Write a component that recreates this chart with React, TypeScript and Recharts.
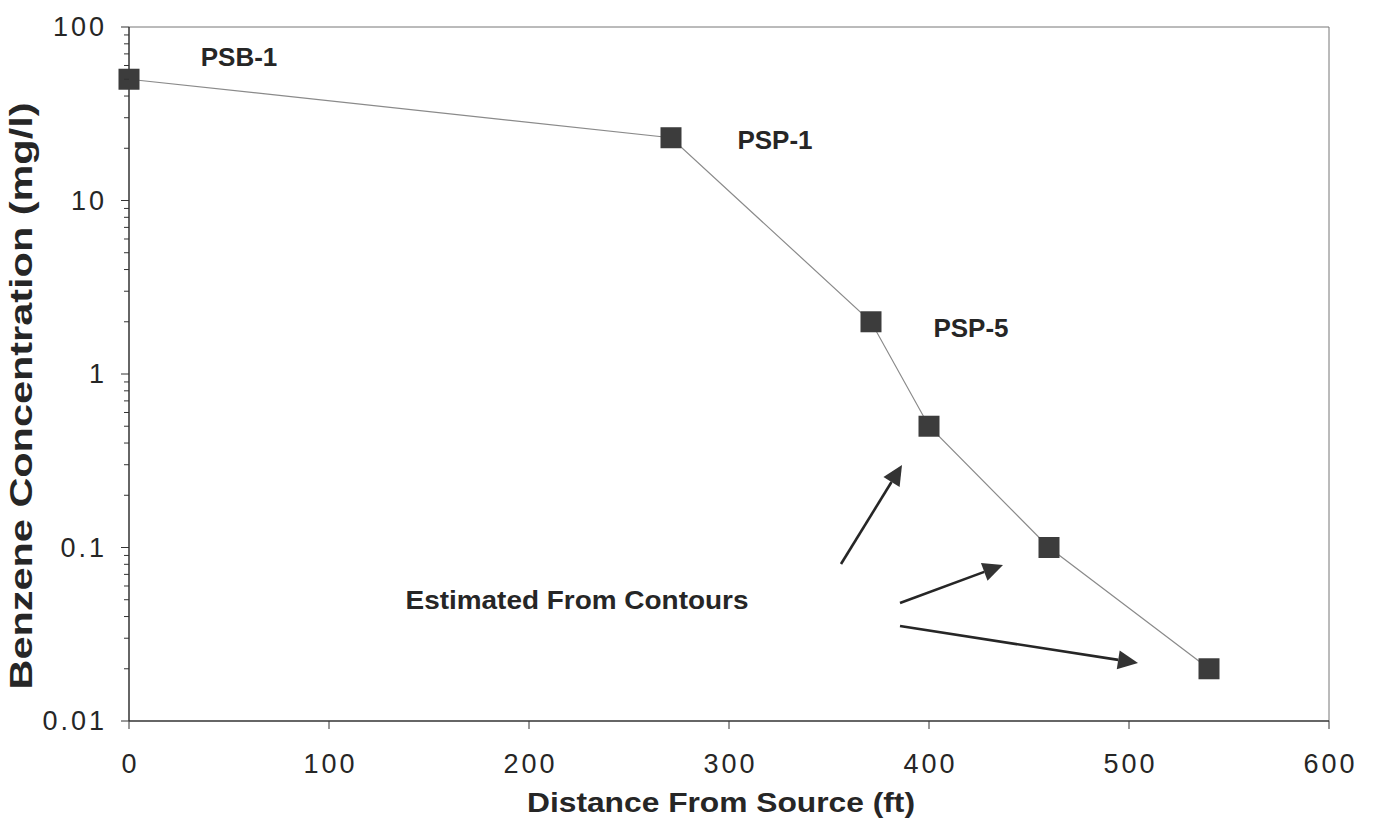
import { LineChart, Line, XAxis, YAxis, ReferenceLine, ReferenceDot } from "recharts";

// well distance from the source (ft) and benzene concentration (mg/l)
const distanceFt = [0, 271, 371, 400, 460, 540];
const benzeneMgL = [50, 23, 2, 0.5, 0.1, 0.02];

const xTicks = [0, 100, 200, 300, 400, 500, 600];
const yMajorTicks = [0.01, 0.1, 1, 10, 100];
const yMinorSteps = [2, 3, 4, 5, 6, 7, 8, 9];

const wellLabels = [
  { name: "PSB-1", x: 55, y: 67 },
  { name: "PSP-1", x: 323, y: 22.3 },
  { name: "PSP-5", x: 421, y: 1.84 },
];
const noteLabel = { text: "Estimated From Contours", x: 224, y: 0.05 };
const arrowTails = [
  { x: 356, y: 0.0803 },
  { x: 385.5, y: 0.0479 },
  { x: 385.5, y: 0.0353 },
];
const arrowHeads = [
  { x: 386.5, y: 0.299 },
  { x: 437, y: 0.0793 },
  { x: 504.5, y: 0.0216 },
];

const data = distanceFt.map((d, i) => ({ d, c: benzeneMgL[i] }));
const yTicks = yMajorTicks.flatMap((t) =>
  t < 100 ? [t, ...yMinorSteps.map((m) => m * t)] : [t]
);

const FONT = "'Liberation Sans', Arial, Helvetica, sans-serif";
const INK = "#262626";

/* ============ ticks ============ */

function YTick({ x, y, payload }: any) {
  const major = yMajorTicks.includes(payload.value);
  return (
    <g>
      <line x1={x} x2={x - (major ? 8 : 5)} y1={y} y2={y} stroke="#333" strokeWidth={1} />
      {major && (
        <text
          x={x - 22}
          y={y}
          dy="0.35em"
          textAnchor="end"
          fontFamily={FONT}
          fontSize={27}
          letterSpacing={3}
          fill={INK}
        >
          {String(payload.value)}
        </text>
      )}
    </g>
  );
}

function XTick({ x, y, payload }: any) {
  return (
    <g>
      <line x1={x} x2={x} y1={y} y2={y + 8} stroke="#333" strokeWidth={1} />
      <text
        x={x + 1.5}
        y={y + 43}
        dy="0.35em"
        textAnchor="middle"
        fontFamily={FONT}
        fontSize={27}
        letterSpacing={3}
        fill={INK}
      >
        {payload.value}
      </text>
    </g>
  );
}

/* ============ marks ============ */

function SquareDot({ cx, cy, index }: any) {
  return <rect key={index} x={cx - 10.5} y={cy - 10.5} width={21} height={21} fill="#3c3c3c" />;
}

function Arrow({ x1, y1, x2, y2 }: any) {
  const a = Math.atan2(y2 - y1, x2 - x1);
  const len = 20;
  const half = 9.5;
  const bx = x2 - len * Math.cos(a);
  const by = y2 - len * Math.sin(a);
  const p1 = `${bx + half * Math.sin(a)},${by - half * Math.cos(a)}`;
  const p2 = `${bx - half * Math.sin(a)},${by + half * Math.cos(a)}`;
  return (
    <g>
      <line x1={x1} y1={y1} x2={bx} y2={by} stroke={INK} strokeWidth={2.6} />
      <polygon points={`${x2},${y2} ${p1} ${p2}`} fill="#333" />
    </g>
  );
}

function textShape(label: string, size: number, length?: number) {
  return ({ cx, cy }: any) => (
    <text
      x={cx}
      y={cy}
      dy="0.35em"
      textAnchor="middle"
      fontFamily={FONT}
      fontWeight="bold"
      fontSize={size}
      fill={INK}
      textLength={length}
      lengthAdjust={length ? "spacingAndGlyphs" : undefined}
    >
      {label}
    </text>
  );
}

export default function App() {
  return (
    <div style={{ position: "absolute", left: 0, top: 0, width: 1375, height: 834, background: "#fff" }}>
      <LineChart
        width={1375}
        height={834}
        data={data}
        margin={{ top: 27, right: 46, bottom: 53, left: 29 }}
      >
        <XAxis
          dataKey="d"
          type="number"
          domain={[0, 600]}
          ticks={xTicks}
          interval={0}
          height={60}
          tickLine={false}
          tickSize={0}
          tickMargin={0}
          tick={<XTick />}
          axisLine={{ stroke: "#333", strokeWidth: 1.5 }}
        />
        <YAxis
          dataKey="c"
          scale="log"
          type="number"
          domain={[0.01, 100]}
          ticks={yTicks}
          interval={0}
          width={100}
          tickLine={false}
          tickSize={0}
          tickMargin={0}
          tick={<YTick />}
          axisLine={{ stroke: "#333", strokeWidth: 1.5 }}
        />
        <ReferenceLine y={100} stroke="#777" strokeWidth={1} ifOverflow="visible" />
        <ReferenceLine x={600} stroke="#777" strokeWidth={1} ifOverflow="visible" />
        <Line
          type="linear"
          dataKey="c"
          stroke="#8a8a8a"
          strokeWidth={1.2}
          dot={<SquareDot />}
          activeDot={false}
          isAnimationActive={false}
        />
        {arrowTails.map((t, i) => (
          <ReferenceLine
            key={`arrow-${i}`}
            segment={[t, arrowHeads[i]]}
            ifOverflow="visible"
            shape={(p: any) => <Arrow {...p} />}
          />
        ))}
        {wellLabels.map((w) => (
          <ReferenceDot
            key={w.name}
            x={w.x}
            y={w.y}
            r={1}
            ifOverflow="visible"
            shape={textShape(w.name, 26)}
          />
        ))}
        <ReferenceDot
          x={noteLabel.x}
          y={noteLabel.y}
          r={1}
          ifOverflow="visible"
          shape={textShape(noteLabel.text, 26, 343)}
        />
        <text
          x={721}
          y={802}
          dy="0.35em"
          textAnchor="middle"
          fontFamily={FONT}
          fontWeight="bold"
          fontSize={28}
          fill={INK}
          textLength={388}
          lengthAdjust="spacingAndGlyphs"
        >
          Distance From Source (ft)
        </text>
        <text
          x={21}
          y={396}
          dy="0.35em"
          textAnchor="middle"
          transform="rotate(-90 21 396)"
          fontFamily={FONT}
          fontWeight="bold"
          fontSize={31}
          fill={INK}
          textLength={587}
          lengthAdjust="spacingAndGlyphs"
        >
          Benzene Concentration (mg/l)
        </text>
      </LineChart>
    </div>
  );
}
